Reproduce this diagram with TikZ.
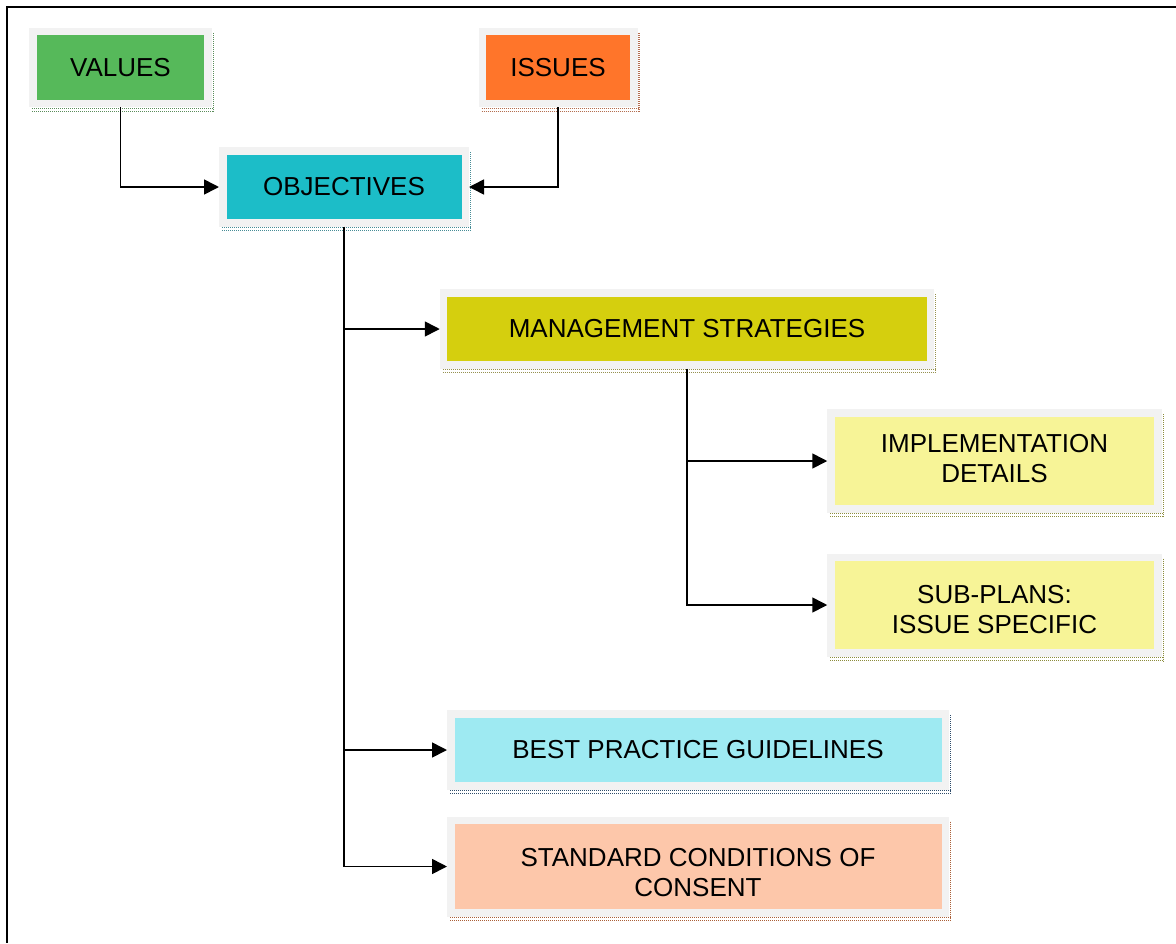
\documentclass[tikz,border=0pt]{standalone}
\usepackage{fontspec}
\setmainfont{Liberation Sans}
\usepackage{xcolor}
\definecolor{framegray}{RGB}{242,242,242}
\definecolor{valuesgreen}{RGB}{86,185,90}
\definecolor{issuesorange}{RGB}{255,117,42}
\definecolor{objcyan}{RGB}{28,189,200}
\definecolor{mgmtolive}{RGB}{213,207,14}
\definecolor{planyellow}{RGB}{247,244,151}
\definecolor{bestcyan}{RGB}{158,234,242}
\definecolor{stdpeach}{RGB}{253,199,170}
\usepackage{tikz}
\usetikzlibrary{arrows.meta}
\tikzstyle{panel} = [rectangle, draw=framegray, line width=7.5pt,
  inner sep=0pt, align=center, font=\fontsize{26}{30}\selectfont,
  minimum height=72pt]
\tikzstyle{link} = [line width=1.6pt, -{Triangle[length=15pt,width=15pt]}]
\tikzstyle{dots} = [line width=1.3pt, dash pattern=on 1pt off 1pt]
% dotted drop lines on the right and bottom of a panel
\newcommand{\dropshade}[2]{%
  \draw[dots,#2] ([xshift=1.5pt,yshift=-5pt]#1.north east) -- ([xshift=1.5pt,yshift=-4.5pt]#1.south east);
  \draw[dots,#2] ([xshift=3pt,yshift=-1pt]#1.south west) -- ([xshift=2pt,yshift=-1pt]#1.south east);
  \draw[dots,#2] ([xshift=3pt,yshift=-4pt]#1.south west) -- ([xshift=2pt,yshift=-4pt]#1.south east);
}
% two-line panel text, moved up or down inside its panel
\newcommand{\twolines}[2]{\raisebox{#1}[\height][\depth]{\begin{tabular}{@{}c@{}}#2\end{tabular}}}

\begin{document}
\begin{tikzpicture}[x=1pt, y=-1pt]
  \useasboundingbox (0,0) rectangle (1176,943);
  \draw[line width=2pt] (1176,7) -- (7,7) -- (7,943);

  \node[panel, fill=valuesgreen, minimum width=175pt] (values) at (120.5, 67.5) {VALUES};
  \node[panel, fill=issuesorange, minimum width=151.5pt] (issues) at (558, 67.5) {ISSUES};
  \node[panel, fill=objcyan, minimum width=242.5pt] (obj) at (344, 187) {OBJECTIVES};
  \node[panel, fill=mgmtolive, minimum width=487pt] (mgmt) at (687, 329) {MANAGEMENT STRATEGIES};
  \node[panel, fill=planyellow, minimum width=327pt, minimum height=96pt] (impl) at (994.5, 461)
    {\twolines{0pt}{IMPLEMENTATION\\DETAILS}};
  \node[panel, fill=planyellow, minimum width=327pt, minimum height=95.5pt] (sub) at (994.5, 605)
    {\twolines{-7pt}{SUB-PLANS:\\ISSUE SPECIFIC}};
  \node[panel, fill=bestcyan, minimum width=494.5pt] (best) at (698, 750) {BEST PRACTICE GUIDELINES};
  \node[panel, fill=stdpeach, minimum width=494.5pt, minimum height=92.5pt] (std) at (698, 866.5)
    {\twolines{-9pt}{STANDARD CONDITIONS OF\\CONSENT}};

  \dropshade{values}{color={rgb,255:red,90;green,140;blue,90}}
  \dropshade{issues}{color={rgb,255:red,180;green,110;blue,80}}
  \dropshade{obj}{color={rgb,255:red,70;green,140;blue,150}}
  \dropshade{mgmt}{color={rgb,255:red,150;green,145;blue,80}}
  \dropshade{impl}{color={rgb,255:red,140;green,140;blue,60}}
  \dropshade{sub}{color={rgb,255:red,140;green,140;blue,60}}
  \dropshade{best}{color={rgb,255:red,45;green,75;blue,105}}
  \dropshade{std}{color={rgb,255:red,170;green,95;blue,55}}

  \path[draw,link] (values.south) |- (obj.west);
  \path[draw,link] (issues.south) |- (obj.east);
  \path[draw,link] (obj.south) |- (mgmt.west);
  \path[draw,link] (obj.south) |- (best.west);
  \path[draw,link] (obj.south) |- (std.west);
  \path[draw,link] (mgmt.south) |- (impl.west);
  \path[draw,link] (mgmt.south) |- (sub.west);
\end{tikzpicture}
\end{document}
